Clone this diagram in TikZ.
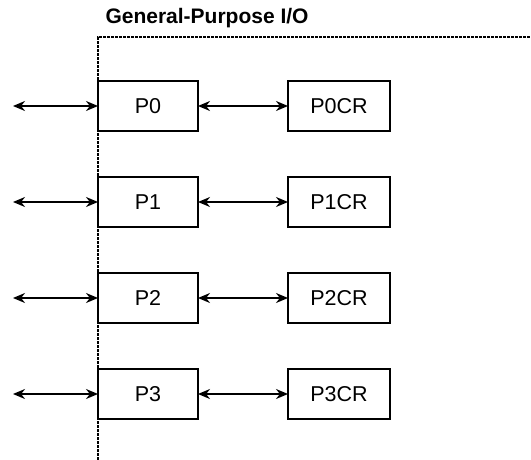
\documentclass[tikz,border=0pt]{standalone}
\usepackage{fontspec}
\setmainfont{Liberation Sans}
\usetikzlibrary{positioning,arrows.meta}

\begin{document}
\begin{tikzpicture}[x=1pt,y=-1pt,
  port/.style={draw,line width=2.4pt,minimum width=100pt,minimum height=50pt,
    inner sep=0pt,outer sep=0pt,font=\fontsize{21.5}{25}\selectfont},
  link/.style={line width=1.5pt,{Stealth[length=12pt,width=10pt]}-{Stealth[length=12pt,width=10pt]}},
  border/.style={line width=2.4pt,dash pattern=on 3pt off 1pt}]
\useasboundingbox (0,0) rectangle (531,460);
% block boundary
\draw[border] (98,460) -- (98,37) -- (531,37);
\node[anchor=west,font=\bfseries\fontsize{21}{25}\selectfont] (title) at (102,18) {General-Purpose I/O};
% ports and their control registers
\foreach \i in {0,1,2,3} {
  \node[port,anchor=west] (p\i) at (98,106+96*\i) {P\i};
  \node[port,right=90pt of p\i,minimum width=102pt] (p\i cr) {P\i CR};
  \coordinate (pin\i) at (13,106+96*\i);
  \draw[link] (pin\i) -- (p\i.west);
  \draw[link] (p\i.east) -- (p\i cr.west);
}
\end{tikzpicture}
\end{document}
